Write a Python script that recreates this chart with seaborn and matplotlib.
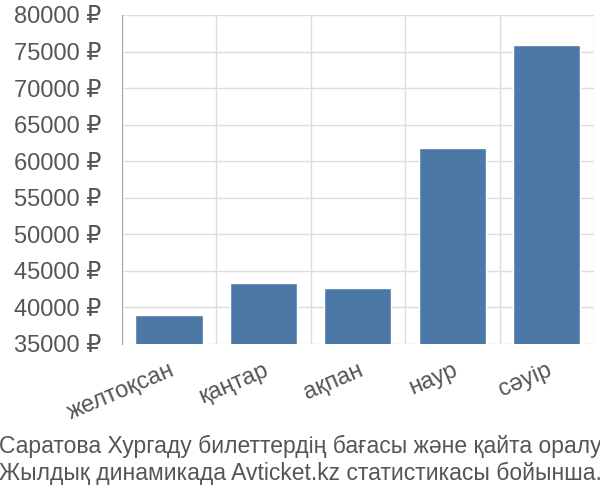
import matplotlib
matplotlib.use('Agg')
import matplotlib.pyplot as plt
import numpy as np
import pandas as pd
import seaborn as sns

# data
months = ['желтоқсан', 'қаңтар', 'ақпан', 'наур', 'сәуір']
prices = [38950, 43300, 42700, 61750, 75950]
yticks = list(range(35000, 80001, 5000))
caption = ('Саратова Хургаду билеттердің бағасы және қайта оралу\n'
           'Жылдық динамикада Avticket.kz статистикасы бойынша.')

df = pd.DataFrame({'month': months, 'price': prices})

sns.set_style('white')
plt.rcParams['font.family'] = ['Liberation Sans', 'DejaVu Sans']

fig, ax = plt.subplots(figsize=(6, 5), dpi=100)
fig.subplots_adjust(left=0.203, right=0.99, top=0.97, bottom=0.312)

sns.barplot(data=df, x='month', y='price', color='#4c78a8', saturation=1,
            width=0.71, ax=ax, zorder=3)

ax.set_ylim(35000, 80000)
ax.set_xlim(-0.5, len(months) - 0.5)
ax.set_yticks(yticks)
ax.set_yticklabels([f'{v} ₽' for v in yticks])
ax.set_xlabel('')
ax.set_ylabel('')

# category boundaries as vertical grid
ax.set_xticks(np.arange(-0.5, len(months)), minor=True)
ax.set_xticks(range(len(months)))
ax.set_xticklabels(months, rotation=23, ha='right', rotation_mode='anchor')
ax.tick_params(axis='x', which='major', length=0, pad=11, labelsize=17, labelcolor='#555555')
ax.tick_params(axis='x', which='minor', length=13, color='#dddddd', width=1)
ax.tick_params(axis='y', length=14, color='#dddddd', labelsize=17, labelcolor='#555555', pad=1)
ax.grid(axis='x', which='minor', color='#dddddd', linewidth=1, zorder=0)
ax.grid(axis='y', which='major', color='#dddddd', linewidth=1, zorder=0)

for s in ['top', 'right', 'bottom']:
    ax.spines[s].set_visible(False)
ax.spines['left'].set_color('#aaaaaa')
ax.spines['left'].set_bounds(35000, 80000)

fig.text(0.5, 0.08, caption, ha='center', va='center', fontsize=16.5,
         color='#555555', linespacing=1.2)

fig.savefig('out.png', dpi=100)
